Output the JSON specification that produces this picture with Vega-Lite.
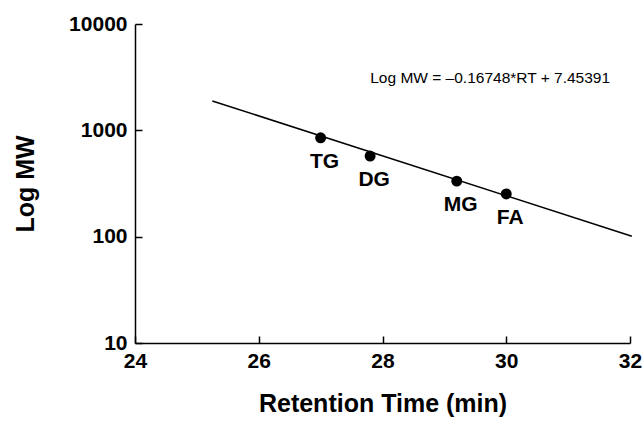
{
  "$schema": "https://vega.github.io/schema/vega-lite/v6.json",
  "width": 495,
  "height": 319,
  "autosize": {"type": "none"},
  "padding": {"left": 135, "top": 24, "right": 14, "bottom": 83},
  "background": "white",
  "config": {
    "view": {"stroke": null},
    "font": "Liberation Sans",
    "axis": {
      "domainColor": "black",
      "domainWidth": 1.5,
      "tickColor": "black",
      "tickWidth": 1.5,
      "tickSize": -7,
      "grid": false,
      "labelFont": "Liberation Sans",
      "labelFontWeight": "bold",
      "labelFontSize": 21,
      "labelColor": "black",
      "titleFont": "Liberation Sans",
      "titleFontWeight": "bold",
      "titleFontSize": 25,
      "titleColor": "black"
    }
  },
  "datasets": {
    "pts": [
      {"rt": 27.0, "mw": 850, "lab": "TG"},
      {"rt": 27.8, "mw": 573, "lab": "DG"},
      {"rt": 29.2, "mw": 333, "lab": "MG"},
      {"rt": 30.0, "mw": 252, "lab": "FA"}
    ],
    "fit": [
      {"rt": 25.25, "mw": 1890},
      {"rt": 32.03, "mw": 101}
    ],
    "eq": [
      {"rt": 29.74, "mw": 3090, "txt": "Log MW = \u20130.16748*RT + 7.45391"}
    ]
  },
  "layer": [
    {
      "data": {"name": "fit"},
      "mark": {"type": "line", "color": "black", "strokeWidth": 1.5, "clip": false},
      "encoding": {
        "x": {
          "field": "rt", "type": "quantitative",
          "scale": {"domain": [24, 32], "nice": false, "zero": false},
          "axis": {"values": [24, 26, 28, 30, 32], "format": "d", "title": "Retention Time (min)", "labelPadding": 14, "titlePadding": 20, "labelFlush": false}
        },
        "y": {
          "field": "mw", "type": "quantitative",
          "scale": {"type": "log", "domain": [10, 10000], "nice": false},
          "axis": {"values": [10, 100, 1000, 10000], "format": "d", "title": "Log MW", "labelPadding": 15, "titlePadding": 30}
        }
      }
    },
    {
      "data": {"name": "pts"},
      "mark": {"type": "circle", "color": "black", "opacity": 1, "size": 120},
      "encoding": {
        "x": {"field": "rt", "type": "quantitative"},
        "y": {"field": "mw", "type": "quantitative"}
      }
    },
    {
      "data": {"name": "pts"},
      "mark": {"type": "text", "fontWeight": "bold", "fontSize": 21, "dy": 24, "dx": 4, "baseline": "middle", "align": "center", "font": "Liberation Sans"},
      "encoding": {
        "x": {"field": "rt", "type": "quantitative"},
        "y": {"field": "mw", "type": "quantitative"},
        "text": {"field": "lab"}
      }
    },
    {
      "data": {"name": "eq"},
      "mark": {"type": "text", "fontSize": 15.5, "baseline": "middle", "align": "center", "font": "Liberation Sans"},
      "encoding": {
        "x": {"field": "rt", "type": "quantitative"},
        "y": {"field": "mw", "type": "quantitative"},
        "text": {"field": "txt"}
      }
    }
  ]
}
